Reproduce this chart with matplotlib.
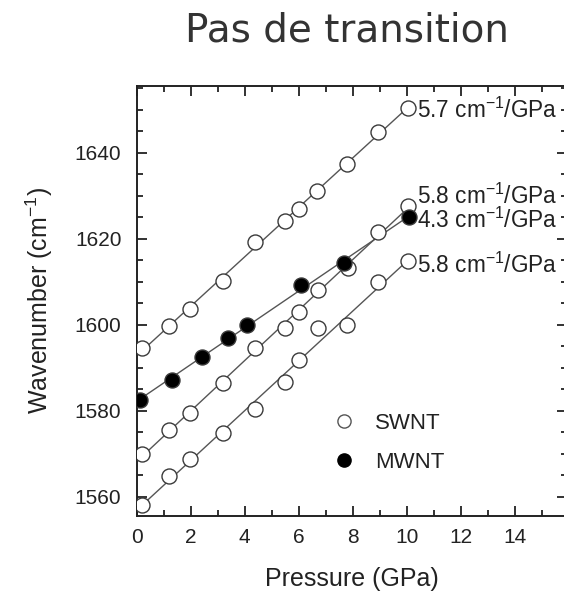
import numpy as np
import matplotlib
matplotlib.use('Agg')
import matplotlib.pyplot as plt
from matplotlib.ticker import MultipleLocator

plt.rcParams['font.family'] = 'Liberation Sans'
plt.rcParams['mathtext.fontset'] = 'custom'
plt.rcParams['mathtext.rm'] = 'Liberation Sans'
plt.rcParams['mathtext.it'] = 'Liberation Sans'

# SWNT, top branch (5.7 cm-1/GPa)
p_sw1 = [0.19, 1.21, 1.97, 3.19, 4.38, 5.49, 6.02, 6.69, 7.78, 8.95, 10.06]
w_sw1 = [1594.6, 1599.7, 1603.6, 1610.2, 1619.3, 1624.0, 1626.8, 1631.2, 1637.4, 1644.8, 1650.5]
# SWNT, middle branch (5.8 cm-1/GPa)
p_sw2 = [0.19, 1.21, 1.97, 3.19, 4.38, 5.49, 6.02, 6.70, 7.84, 8.95, 10.06]
w_sw2 = [1569.9, 1575.5, 1579.5, 1586.5, 1594.7, 1599.2, 1603.0, 1608.1, 1613.1, 1621.6, 1627.6]
# SWNT, lower branch (5.8 cm-1/GPa)
p_sw3 = [0.19, 1.21, 1.97, 3.19, 4.38, 5.49, 6.02, 6.70, 7.78, 8.95, 10.06]
w_sw3 = [1558.1, 1564.8, 1568.7, 1574.9, 1580.4, 1586.7, 1591.8, 1599.2, 1599.9, 1609.9, 1614.8]
# MWNT (4.3 cm-1/GPa)
p_mw = [0.12, 1.30, 2.41, 3.39, 4.07, 6.07, 7.69, 10.10]
w_mw = [1582.6, 1587.1, 1592.6, 1596.8, 1599.9, 1609.2, 1614.4, 1625.0]

slope_labels = ['5.7', '5.8', '4.3', '5.8']
label_y = [1649.9, 1629.9, 1624.3, 1613.9]

fig = plt.figure(figsize=(5.64, 5.94), dpi=100)
ax = fig.add_axes([136.7/564, 1 - 515.7/594, 430.5/564, 429.7/594])

line_c = '#555555'
edge_c = '#3a3a3a'
series = [(p_sw1, w_sw1, 'white'), (p_sw2, w_sw2, 'white'),
          (p_mw, w_mw, 'black'), (p_sw3, w_sw3, 'white')]
for p, w, fc in series:
    p = np.array(p); w = np.array(w)
    k, b = np.polyfit(p, w, 1)
    xs = np.array([p.min(), p.max()])
    ax.plot(xs, k*xs + b, color=line_c, lw=1.0, zorder=2)
    ax.plot(p, w, 'o', ms=10.8, mfc=fc, mec=edge_c, mew=1.0, zorder=3)

for s, y in zip(slope_labels, label_y):
    ax.text(10.38, y, s + r' cm$^{-1}$/GPa', fontsize=16.3, color='#222222',
            va='center', ha='left')

# legend
ax.plot([], [], 'o', ms=9.5, mfc='white', mec='#555555', mew=1.0, label='SWNT')
ax.plot([], [], 'o', ms=9.5, mfc='black', mec='black', mew=1.0, label='MWNT')
ax.legend(loc='upper left', bbox_to_anchor=(0.41, 0.285), frameon=False,
          fontsize=16, handlelength=1.0, handletextpad=0.9, labelspacing=0.8,
          labelcolor='#222222')

ax.set_xlim(0, 15.95)
ax.set_ylim(1555.6, 1655.5)
ax.xaxis.set_major_locator(MultipleLocator(2))
ax.xaxis.set_minor_locator(MultipleLocator(1))
ax.yaxis.set_major_locator(MultipleLocator(20))
ax.yaxis.set_minor_locator(MultipleLocator(5))
ax.tick_params(which='both', direction='in', top=True, right=True,
               labelsize=15, colors='#222222', width=1.3)
ax.tick_params(which='major', length=7)
ax.tick_params(which='minor', length=4)
ax.tick_params(axis='y', which='both', right=True)
ax.tick_params(axis='x', pad=9)
ax.tick_params(axis='y', pad=11)
for t in ax.yaxis.get_ticklines(minor=False)[1::2] + ax.yaxis.get_ticklines(minor=True)[1::2]:
    t.set_color('#999999')
for sp in ax.spines.values():
    sp.set_linewidth(1.4)
    sp.set_color('#222222')
ax.spines['right'].set_visible(False)

ax.set_xlabel('Pressure (GPa)', fontsize=18, color='#222222', labelpad=14)
ax.set_ylabel(r'Wavenumber (cm$^{-1}$)', fontsize=18, color='#222222', labelpad=14)

fig.text(0.615, 0.948, 'Pas de transition', fontsize=28, color='#333333',
         ha='center', va='center', family='DejaVu Sans')

fig.savefig('out.png', dpi=100)
